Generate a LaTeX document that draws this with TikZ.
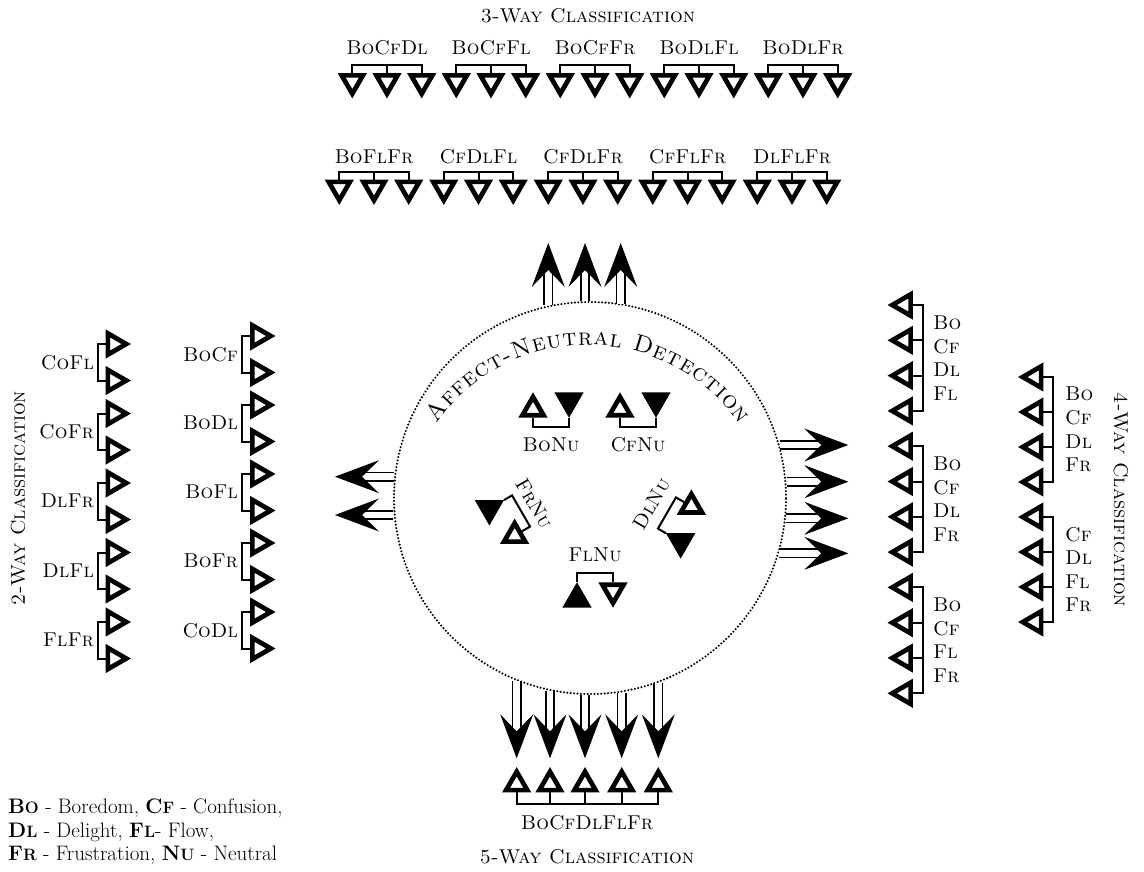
\documentclass[tikz,border=0pt]{standalone}
\usetikzlibrary{shapes.geometric,arrows.meta,decorations.text}
\newcommand\labfont{\fontsize{20}{22}\selectfont}
\newcommand\legfont{\fontsize{21}{23}\selectfont}
\newcommand\bsc[2]{{\bfseries #1\fontsize{16.5}{18}\selectfont #2}}
% unit: name, x, y, rotation, label rotation, label text, label distance
\newcommand\nuunit[7]{%
  \begin{scope}[shift={(#2,#3)},rotate=#4]
    \node[tri,transform shape] (#1-o) at (-18,4.2) {};
    \node[ftri,transform shape,shape border rotate=180] (#1-f) at (18,-4.2) {};
    \coordinate (#1-p) at (-18,22);
    \coordinate (#1-q) at (18,22);
    \draw[conn] (#1-o.side 2) -- (#1-p) -- (#1-q) -- (#1-f.corner 1);
    \node[lab,rotate=#5] (#1-l) at (0,#7) {\textsc{#6}};
  \end{scope}}
\begin{document}
\begin{tikzpicture}[x=1pt,y=-1pt,
  tri/.style={regular polygon,regular polygon sides=3,minimum size=24.5pt,inner sep=0pt,draw,line width=4.7pt,fill=white},
  ftri/.style={tri,fill=black},
  conn/.style={line width=2pt},
  lab/.style={font=\labfont,inner sep=0pt},
  leg/.style={font=\legfont,inner sep=0pt},
  bigarrow/.style={double,double distance=6.5pt,line width=1.7pt,-{Stealth[length=44pt,width=33pt,inset=17pt,line width=0pt]}},
  dotcirc/.style={circle,draw,line width=2.3pt,line cap=round,dash pattern=on 0pt off 3.4pt,minimum size=392pt,inner sep=0pt}
]
\useasboundingbox (0,0) rectangle (1144,871);

% central circle
\node[dotcirc] (circ) at (590,498) {};
\path[decorate,decoration={text along path,text align=fit to path,
  text={|\fontsize{24}{24}\selectfont\scshape|Affect-Neutral Detection}}]
  (436.5,423.9) arc[start angle=215,end angle=325,radius=185];

% neutral units
\nuunit{bo}{551}{405}{0}{0}{BoNu}{40}
\nuunit{cf}{638}{405}{0}{0}{CfNu}{40}
\nuunit{fl}{595}{595}{180}{0}{FlNu}{40}
\nuunit{dl}{686}{524}{-120}{60}{DlNu}{40}
\nuunit{fr}{502}{522}{120}{-60}{FrNu}{37}

% 3-way
\node[lab] (t3) at (588,16) {\textsc{3-Way Classification}};
\foreach \nm [count=\i from 0] in {BoCfDl,BoCfFl,BoCfFr,BoDlFl,BoDlFr}{
  \pgfmathsetmacro{\cx}{387+104*\i}
  \node[tri,shape border rotate=180] (ra-\i-a) at (\cx-34.7,81.5) {};
  \node[tri,shape border rotate=180] (ra-\i-b) at (\cx,81.5) {};
  \node[tri,shape border rotate=180] (ra-\i-c) at (\cx+34.7,81.5) {};
  \draw[conn] (ra-\i-a.side 2) -- ++(0,-8) -| (ra-\i-c.side 2);
  \draw[conn] (ra-\i-b.side 2) -- ++(0,-8);
  \node[lab] (la-\i) at (\cx,48) {\textsc{\nm}};
}
\foreach \nm [count=\i from 0] in {BoFlFr,CfDlFl,CfDlFr,CfFlFr,DlFlFr}{
  \pgfmathsetmacro{\cx}{374+104.5*\i}
  \node[tri,shape border rotate=180] (rb-\i-a) at (\cx-34.7,188) {};
  \node[tri,shape border rotate=180] (rb-\i-b) at (\cx,188) {};
  \node[tri,shape border rotate=180] (rb-\i-c) at (\cx+34.7,188) {};
  \draw[conn] (rb-\i-a.side 2) -- ++(0,-8) -| (rb-\i-c.side 2);
  \draw[conn] (rb-\i-b.side 2) -- ++(0,-8);
  \node[lab] (lb-\i) at (\cx,157) {\textsc{\nm}};
}
\foreach \x/\a [count=\i] in {548.3/102.29,585/91.46,620.7/80.99}{
  \coordinate (ua\i) at (\x,243);
  \draw[bigarrow] (ua\i |- circ.\a) -- (ua\i);
}

% 5-way
\foreach \x/\a [count=\i from 0] in {516.7/248.04,550/258.23,585/268.54,621.7/279.31,658.3/290.4}{
  \coordinate (da\i) at (\x,758.3);
  \draw[bigarrow] (da\i |- circ.\a) -- (da\i);
  \node[tri] (f\i) at (\x,784) {};
}
\draw[conn] (f0.side 2) -- ++(0,11.5) -| (f4.side 2);
\foreach \i in {1,2,3}{\draw[conn] (f\i.side 2) -- ++(0,11.5);}
\node[lab] (l5) at (587,823) {\textsc{BoCfDlFlFr}};
\node[lab] (t5) at (587,857) {\textsc{5-Way Classification}};

% 2-way
\node[lab,rotate=90] (t2) at (18,498) {\textsc{2-Way Classification}};
\foreach \y/\a [count=\i] in {476.7/173.76,515/184.98}{
  \coordinate (lf\i) at (335,\y);
  \draw[bigarrow] (lf\i -| circ.\a) -- (lf\i);
}
\foreach \nm [count=\i from 0] in {CoFl,CoFr,DlFr,DlFl,FlFr}{
  \pgfmathsetmacro{\yu}{344+69.5*\i}
  \node[tri,shape border rotate=-90] (pa-\i-a) at (114,\yu) {};
  \node[tri,shape border rotate=-90] (pa-\i-b) at (114,\yu+36.5) {};
  \draw[conn] (pa-\i-a.side 2) -- ++(-8,0) |- (pa-\i-b.side 2);
  \node[lab,anchor=east] (pl-\i) at (94,\yu+18.25) {\textsc{\nm}};
}
\foreach \nm [count=\i from 0] in {BoCf,BoDl,BoFl,BoFr,CoDl}{
  \pgfmathsetmacro{\yu}{336+69*\i}
  \node[tri,shape border rotate=-90] (pb-\i-a) at (258.5,\yu) {};
  \node[tri,shape border rotate=-90] (pb-\i-b) at (258.5,\yu+36.5) {};
  \draw[conn] (pb-\i-a.side 2) -- ++(-8,0) |- (pb-\i-b.side 2);
  \node[lab,anchor=east] (ql-\i) at (238,\yu+18.25) {\textsc{\nm}};
}

% 4-way
\node[lab,rotate=-90] (t4) at (1121,500) {\textsc{4-Way Classification}};
\foreach \y/\a [count=\i] in {445/15.69,481.7/4.77,518.3/354.06,553.3/343.61}{
  \coordinate (rt\i) at (848.3,\y);
  \draw[bigarrow] (rt\i -| circ.\a) -- (rt\i);
}
\foreach \k in {0,...,11}{\node[tri,shape border rotate=90] (qa\k) at (904.5,305+35.3*\k) {};}
\foreach \g/\la/\lb/\lc/\ld in {0/Bo/Cf/Dl/Fl,1/Bo/Cf/Dl/Fr,2/Bo/Cf/Fl/Fr}{
  \pgfmathtruncatemacro{\ka}{4*\g}
  \pgfmathtruncatemacro{\kb}{4*\g+1}
  \pgfmathtruncatemacro{\kc}{4*\g+2}
  \pgfmathtruncatemacro{\kd}{4*\g+3}
  \pgfmathsetmacro{\cy}{305+35.3*(4*\g+1.5)}
  \draw[conn] (qa\ka.side 2) -- ++(10,0) |- (qa\kd.side 2);
  \draw[conn] (qa\kb.side 2) -- ++(10,0);
  \draw[conn] (qa\kc.side 2) -- ++(10,0);
  \node[lab,anchor=west] (qal\g a) at (933,\cy-35.25) {\textsc{\la}};
  \node[lab,anchor=west] (qal\g b) at (933,\cy-11.75) {\textsc{\lb}};
  \node[lab,anchor=west] (qal\g c) at (933,\cy+11.75) {\textsc{\lc}};
  \node[lab,anchor=west] (qal\g d) at (933,\cy+35.25) {\textsc{\ld}};
}
\foreach \k in {0,...,7}{\node[tri,shape border rotate=90] (qb\k) at (1035,377+35*\k) {};}
\foreach \g/\la/\lb/\lc/\ld in {0/Bo/Cf/Dl/Fr,1/Cf/Dl/Fl/Fr}{
  \pgfmathtruncatemacro{\ka}{4*\g}
  \pgfmathtruncatemacro{\kb}{4*\g+1}
  \pgfmathtruncatemacro{\kc}{4*\g+2}
  \pgfmathtruncatemacro{\kd}{4*\g+3}
  \pgfmathsetmacro{\cy}{377+35*(4*\g+1.5)}
  \draw[conn] (qb\ka.side 2) -- ++(10,0) |- (qb\kd.side 2);
  \draw[conn] (qb\kb.side 2) -- ++(10,0);
  \draw[conn] (qb\kc.side 2) -- ++(10,0);
  \node[lab,anchor=west] (qbl\g a) at (1065,\cy-35.25) {\textsc{\la}};
  \node[lab,anchor=west] (qbl\g b) at (1065,\cy-11.75) {\textsc{\lb}};
  \node[lab,anchor=west] (qbl\g c) at (1065,\cy+11.75) {\textsc{\lc}};
  \node[lab,anchor=west] (qbl\g d) at (1065,\cy+35.25) {\textsc{\ld}};
}

% legend
\node[leg,anchor=base west] (lg1) at (8,813) {\bsc{B}{O} - Boredom, \bsc{C}{F} - Confusion,};
\node[leg,anchor=base west] (lg2) at (8,837) {\bsc{D}{L} - Delight, \bsc{F}{L}- Flow,};
\node[leg,anchor=base west] (lg3) at (8,860.5) {\bsc{F}{R} - Frustration, \bsc{N}{U} - Neutral};
\end{tikzpicture}
\end{document}
